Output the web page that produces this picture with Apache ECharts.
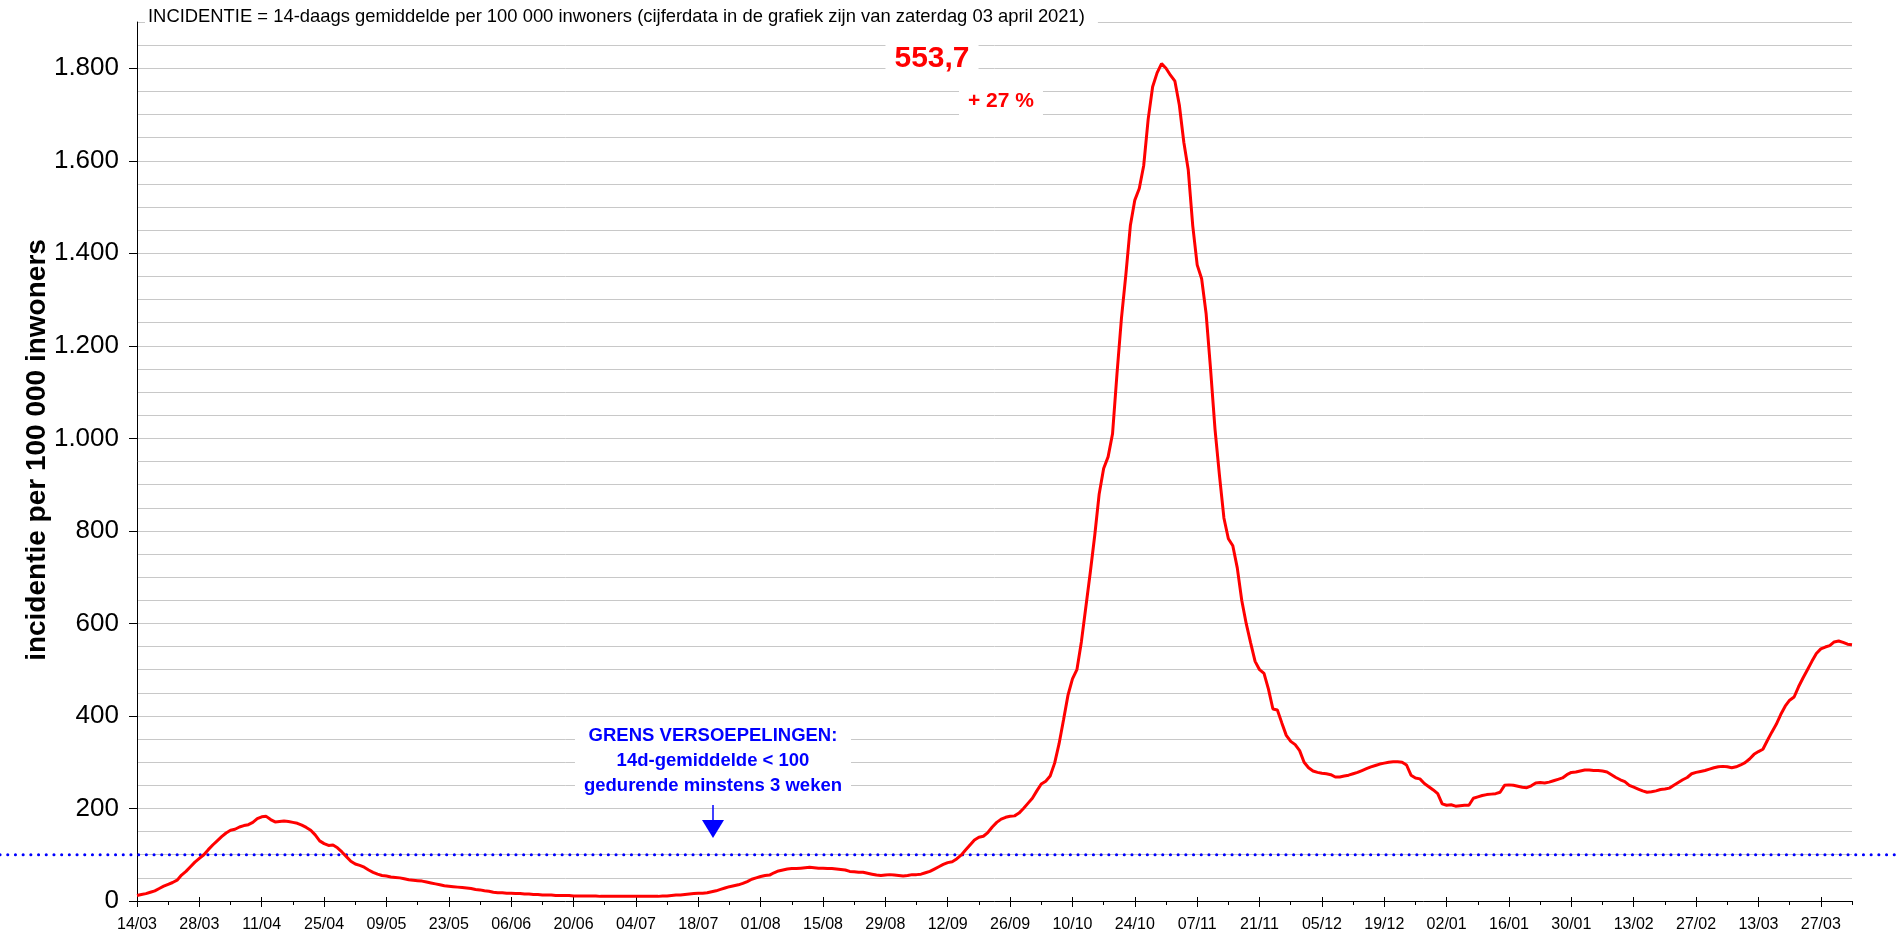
<!DOCTYPE html>
<html>
<head>
<meta charset="utf-8">
<title>Incidentie 14-daags gemiddelde</title>
<script src="https://cdn.jsdelivr.net/npm/echarts@6/dist/echarts.min.js"></script>
<style>
html, body { margin: 0; padding: 0; background: #fff; }
#main { width: 1897px; height: 938px; }
</style>
</head>
<body>
<div id="main"></div>
<script type="text/javascript">
// dagelijkse 14-daagse incidentie per 100 000 inwoners, 14/03/2020 t/m 03/04/2021
var incidentie = [
  12, 14, 16, 19, 22, 27, 32, 36, 40, 45, 56, 64, 74, 84,                 // 14/03 - 27/03
  92, 100, 111, 121, 130, 139, 147, 153, 155, 160, 163, 165, 170, 178,     // 28/03 - 10/04
  182, 183, 176, 171, 172, 173, 172, 170, 168, 164, 159, 153, 143, 130,    // 11/04 - 24/04
  124, 120, 121, 115, 106, 96, 86, 80, 77, 73, 67, 62, 58, 55,             // 25/04 - 08/05
  54, 52, 51, 50, 48, 46, 45, 44, 43, 41, 39, 37, 35, 33,                  // 09/05 - 22/05
  32, 31, 30, 29, 28, 27, 25, 24, 22, 21, 19, 18, 18, 17,                  // 23/05 - 05/06
  17, 16, 16, 15, 15, 14, 14, 13, 13, 13, 12, 12, 12, 12,                  // 06/06 - 19/06
  11, 11, 11, 11, 11, 11, 10, 10, 10, 10, 10, 10, 10, 10,                  // 20/06 - 03/07
  10, 10, 10, 10, 10, 10, 11, 11, 12, 13, 13, 14, 15, 16,                  // 04/07 - 17/07
  17, 17, 18, 20, 22, 25, 28, 31, 33, 35, 38, 42, 47, 50,                  // 18/07 - 31/07
  53, 55, 56, 61, 65, 67, 69, 70, 70, 71, 72, 73, 72, 71,                  // 01/08 - 14/08
  71, 70, 70, 69, 68, 67, 64, 63, 62, 62, 60, 58, 56, 55,                  // 15/08 - 28/08
  56, 57, 56, 55, 54, 55, 57, 57, 58, 61, 64, 69, 74, 79,                  // 29/08 - 11/09
  83, 85, 91, 99, 110, 121, 132, 138, 140, 148, 160, 170, 177, 181,        // 12/09 - 25/09
  183, 184, 190, 200, 211, 222, 238, 253, 259, 270, 298, 340, 392, 445,    // 26/09 - 09/10
  480, 500, 560, 635, 710, 790, 880, 935, 960, 1010, 1140, 1260, 1355, 1460,      // 10/10 - 23/10
  1515, 1540, 1590, 1690, 1760, 1790, 1810, 1800, 1785, 1772, 1720, 1640, 1580, 1460, // 24/10 - 06/11
  1375, 1345, 1270, 1150, 1020, 920, 828, 783, 768, 720, 650, 600, 558, 518,  // 07/11 - 20/11
  500, 492, 458, 415, 413, 385, 358, 345, 338, 325, 300, 288, 281, 278,    // 21/11 - 04/12
  276, 275, 273, 268, 268, 270, 272, 275, 278, 282, 286, 290, 293, 296,    // 05/12 - 18/12
  298, 300, 301, 301, 300, 294, 272, 266, 264, 254, 247, 240, 232, 210,    // 19/12 - 01/01
  207, 208, 205, 206, 207, 207, 222, 225, 228, 230, 231, 232, 235, 250,    // 02/01 - 15/01
  251, 250, 248, 246, 245, 249, 255, 256, 255, 257, 260, 263, 266, 273,    // 16/01 - 29/01
  278, 279, 281, 283, 283, 282, 282, 281, 279, 273, 267, 262, 258, 250,    // 30/01 - 12/02
  246, 242, 238, 235, 236, 238, 241, 242, 244, 250, 256, 262, 267, 275,    // 13/02 - 26/02
  278, 280, 282, 285, 288, 290, 291, 290, 288, 290, 294, 299, 307, 317,    // 27/02 - 12/03
  323, 328, 347, 365, 382, 403, 421, 434, 441, 463, 482, 500, 518, 535,    // 13/03 - 26/03
  545, 549, 552, 560, 562, 559, 555, 553.7                                 // 27/03 - 03/04
];

// datums als categorieën (dd/mm)
var dates = [];
for (var i = 0; i < incidentie.length; i++) {
  var d = new Date(2020, 2, 14 + i);
  dates.push(('0' + d.getDate()).slice(-2) + '/' + ('0' + (d.getMonth() + 1)).slice(-2));
}

var yTicks = [0, 200, 400, 600, 800, 1000, 1200, 1400, 1600, 1800];
var grens = 100;
var stijging = '+ 27 %';
var titel = 'INCIDENTIE = 14-daags gemiddelde per 100 000 inwoners (cijferdata in de grafiek zijn van zaterdag 03 april 2021)';
var yNaam = 'incidentie per 100 000 inwoners';
var grensTekst = 'GRENS VERSOEPELINGEN:\n14d-gemiddelde < 100\ngedurende minstens 3 weken';

var FONT = '"Liberation Sans", Arial, Helvetica, sans-serif';

function fmtNL(v) {
  if (v >= 1000) {
    return Math.floor(v / 1000) + '.' + ('00' + (v % 1000)).slice(-3);
  }
  return String(v);
}

var myChart = echarts.init(document.getElementById('main'));

myChart.setOption({
  animation: false,
  backgroundColor: '#fff',
  title: {
    text: titel,
    left: 145,
    top: 6,
    padding: [2, 13, 2, 3],
    backgroundColor: '#fff',
    textStyle: { fontSize: 18.4, fontWeight: 'normal', color: '#000', fontFamily: FONT }
  },
  grid: { left: 137, right: 45, top: 22, bottom: 37 },
  xAxis: [
    {
      type: 'category',
      data: dates,
      boundaryGap: false,
      axisLine: { lineStyle: { color: '#000', width: 1 } },
      axisTick: { interval: 13, length: 6, lineStyle: { color: '#000' } },
      axisLabel: { interval: 13, fontSize: 16, margin: 16, color: '#000', fontFamily: FONT },
      splitLine: { show: false }
    },
    {
      type: 'category',
      data: dates,
      boundaryGap: false,
      position: 'bottom',
      axisLine: { show: false },
      axisTick: { interval: 6, length: 4, lineStyle: { color: '#000' } },
      axisLabel: { show: false },
      splitLine: { show: false }
    },
    {
      type: 'category',
      data: dates,
      boundaryGap: false,
      position: 'bottom',
      axisLine: { show: false },
      axisTick: { interval: 13, length: 4, inside: true, lineStyle: { color: '#000' } },
      axisLabel: { show: false },
      splitLine: { show: false }
    }
  ],
  yAxis: [
    {
      type: 'value',
      min: 0,
      max: 1900,
      interval: 50,
      z: 3,
      axisLine: { show: true, lineStyle: { color: '#000', width: 1 } },
      axisTick: { show: true, customValues: yTicks, length: 8, lineStyle: { color: '#000' } },
      axisLabel: {
        customValues: yTicks,
        formatter: fmtNL,
        fontSize: 26,
        margin: 18,
        color: '#000',
        fontFamily: FONT
      },
      splitLine: { show: false }
    },
    {
      // hulplijnen om de 50
      type: 'value',
      min: 0,
      max: 1900,
      interval: 50,
      position: 'left',
      axisLine: { show: false },
      axisTick: { show: false },
      axisLabel: { show: false },
      splitLine: { show: true, lineStyle: { color: '#c8c8c8', width: 1 } }
    }
  ],
  series: [
    {
      name: 'incidentie',
      type: 'line',
      data: incidentie,
      symbol: 'none',
      smooth: false,
      lineStyle: { color: '#ff0000', width: 3 },
      z: 5
    }
  ]
});

// annotaties
var y100 = myChart.convertToPixel({ yAxisIndex: 0 }, grens);
var laatste = String(incidentie[incidentie.length - 1]).replace('.', ',');

myChart.setOption({
  graphic: [
    {
      type: 'line',
      z: 4,
      shape: { x1: 0, y1: y100, x2: 1897, y2: y100 },
      style: { stroke: '#0000ff', lineWidth: 3, lineDash: [0.1, 7.6], lineCap: 'round' }
    },
    {
      type: 'text',
      z: 50,
      x: 37, y: 450,
      rotation: Math.PI / 2,
      style: {
        text: yNaam, fill: '#000', font: 'bold 28px ' + FONT,
        align: 'center', verticalAlign: 'middle'
      }
    },
    {
      type: 'text',
      z: 50,
      x: 932, y: 59,
      style: {
        text: laatste, fill: '#ff0000', font: 'bold 30px ' + FONT,
        align: 'center', verticalAlign: 'middle',
        backgroundColor: '#fff', padding: [5, 9]
      }
    },
    {
      type: 'text',
      z: 50,
      x: 1001, y: 101,
      style: {
        text: stijging, fill: '#ff0000', font: 'bold 21px ' + FONT,
        align: 'center', verticalAlign: 'middle',
        backgroundColor: '#fff', padding: [9, 9]
      }
    },
    {
      type: 'text',
      z: 50,
      x: 713, y: 761,
      style: {
        text: grensTekst, fill: '#0000ff', font: 'bold 18.5px ' + FONT,
        lineHeight: 25,
        align: 'center', verticalAlign: 'middle',
        backgroundColor: '#fff', padding: [1, 9]
      }
    },
    {
      type: 'line',
      z: 50,
      shape: { x1: 713, y1: 805, x2: 713, y2: 822 },
      style: { stroke: '#0000ff', lineWidth: 1.5 }
    },
    {
      type: 'polygon',
      z: 50,
      shape: { points: [[702, 820], [724, 820], [713, 838]] },
      style: { fill: '#0000ff' }
    }
  ]
});
</script>
</body>
</html>
